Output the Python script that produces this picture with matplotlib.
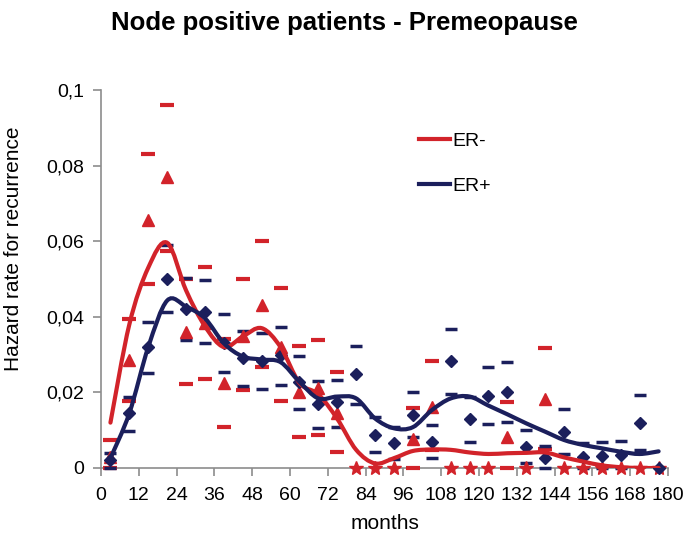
import numpy as np
import matplotlib
matplotlib.use("Agg")
import matplotlib.pyplot as plt
from matplotlib.path import Path
from matplotlib.patches import PathPatch
from matplotlib.lines import Line2D

plt.rcParams["font.family"] = ["Liberation Sans", "DejaVu Sans"]

nan = np.nan

# months (midpoints of 6-month intervals)
months = list(range(3, 180, 6))

# ER- : estimates, upper and lower limits, smoothed curve
er_neg = [0.003, 0.0286, 0.0656, 0.0769, 0.0359, 0.0383, 0.0224, 0.0349, 0.043, 0.0321,
          0.0202, 0.0212, 0.0145, 0, 0, 0, 0.0076, 0.0162, 0, 0,
          0, 0.0081, 0, 0.0183, 0, 0, 0, 0, 0, 0]
er_neg_hi = [0.0074, 0.0395, 0.0831, 0.0961, 0.0499, 0.0531, 0.034, 0.0499, 0.060, 0.0475,
             0.0323, 0.0339, 0.0253, nan, nan, nan, 0.0158, 0.0283, nan, nan,
             nan, 0.0174, nan, 0.0317, nan, nan, nan, nan, nan, nan]
er_neg_lo = [0, 0.0176, 0.0486, 0.0575, 0.0222, 0.0235, 0.0109, 0.0206, 0.0268, 0.0178,
             0.0083, 0.0086, 0.0041, nan, nan, nan, 0, 0.0048, nan, nan,
             nan, 0, nan, 0.0049, nan, nan, nan, nan, nan, nan]
er_neg_fit = [0.012, 0.038, 0.053, 0.0596, 0.047, 0.0375, 0.032, 0.0348, 0.037, 0.032,
              0.0225, 0.0195, 0.013, 0.0048, 0.0012, 0.0026, 0.0045, 0.0049, 0.0048, 0.0041,
              0.0037, 0.0039, 0.004, 0.0041, 0.0028, 0.0017, 0.0007, 0.0002, 0.0, 0.0]

# ER+
er_pos = [0.0021, 0.0145, 0.0321, 0.0501, 0.0421, 0.0413, 0.033, 0.0292, 0.0283, 0.0298,
          0.0227, 0.0168, 0.0174, 0.0248, 0.0087, 0.0067, 0.0141, 0.0069, 0.0283, 0.013,
          0.0191, 0.0202, 0.0056, 0.0026, 0.0096, 0.0028, 0.0032, 0.0034, 0.012, 0]
er_pos_hi = [0.0039, 0.0189, 0.0387, 0.0591, 0.0503, 0.0498, 0.0407, 0.0363, 0.0358, 0.0373,
             0.0296, 0.0229, 0.0234, 0.0323, 0.0136, 0.0109, 0.0202, 0.0115, 0.0368, 0.0189,
             0.0266, 0.028, 0.0101, 0.0058, 0.0157, 0.0065, 0.0069, 0.0071, 0.0194, nan]
er_pos_lo = [0, 0.0099, 0.025, 0.0414, 0.0339, 0.0332, 0.0253, 0.0217, 0.0208, 0.0219,
             0.0157, 0.0107, 0.0109, 0.0169, 0.0042, 0.0024, 0.0083, 0.0026, 0.0195, 0.007,
             0.0117, 0.0122, 0.0014, 0, 0.0037, 0, 0, 0, 0.0048, nan]
er_pos_fit = [0.0026, 0.0145, 0.032, 0.0443, 0.0427, 0.0396, 0.033, 0.0295, 0.0287, 0.028,
              0.0228, 0.0184, 0.0189, 0.0184, 0.0131, 0.0105, 0.0108, 0.0153, 0.0184, 0.0189,
              0.0165, 0.0142, 0.0118, 0.0096, 0.0074, 0.0061, 0.0052, 0.0043, 0.0037, 0.0044]

xticks = list(range(0, 181, 12))
yticks = [0, 0.02, 0.04, 0.06, 0.08, 0.1]
ylabels = ["0", "0,02", "0,04", "0,06", "0,08", "0,1"]

RED = "#d2232a"
BLUE = "#1b1f5c"
GREY = "#8c8c8c"


def smooth_path(x, y):
    # Excel-like smoothed line as cubic Bezier segments
    n = len(x)
    verts = [(x[0], y[0])]
    codes = [Path.MOVETO]
    for i in range(n - 1):
        xa, ya = (x[i - 1], y[i - 1]) if i > 0 else (x[i], y[i])
        xb, yb = (x[i + 2], y[i + 2]) if i + 2 < n else (x[i + 1], y[i + 1])
        c1 = (x[i] + (x[i + 1] - xa) / 6, y[i] + (y[i + 1] - ya) / 6)
        c2 = (x[i + 1] - (xb - x[i]) / 6, y[i + 1] - (yb - y[i]) / 6)
        verts += [c1, c2, (x[i + 1], y[i + 1])]
        codes += [Path.CURVE4] * 3
    return Path(verts, codes)


fig = plt.figure(figsize=(6.88, 5.33), dpi=100)
ax = fig.add_axes([0.1468, 0.122, 0.8242, 0.709])

m = np.array(months)
rn = np.array(er_neg)
nz = rn > 0

# limits (dashes)
ax.plot(m, er_neg_hi, ls="none", marker="_", ms=10, mew=3, color=RED, clip_on=False, zorder=3)
ax.plot(m, er_neg_lo, ls="none", marker="_", ms=10, mew=3, color=RED, clip_on=False, zorder=3)
ax.plot(m, er_pos_hi, ls="none", marker="_", ms=8, mew=2.5, color=BLUE, clip_on=False, zorder=3)
ax.plot(m, er_pos_lo, ls="none", marker="_", ms=8, mew=2.5, color=BLUE, clip_on=False, zorder=3)

# point estimates
ax.plot(m[nz], rn[nz], ls="none", marker="^", ms=8.5, color=RED, clip_on=False, zorder=4)
ax.plot(m[~nz], rn[~nz], ls="none", marker="*", ms=10.5, color=RED, clip_on=False, zorder=4)
ax.plot(m, er_pos, ls="none", marker="D", ms=6.5, color=BLUE, clip_on=False, zorder=5)

# smoothed curves
ax.add_patch(PathPatch(smooth_path(months, er_neg_fit), fill=False, ec=RED, lw=3, zorder=6,
                       capstyle="round"))
ax.add_patch(PathPatch(smooth_path(months, er_pos_fit), fill=False, ec=BLUE, lw=3, zorder=6,
                       capstyle="round"))

ax.set_xlim(0, 180)
ax.set_ylim(0, 0.1)
ax.set_xticks(xticks)
ax.set_xticklabels([str(t) for t in xticks])
ax.set_yticks(yticks)
ax.set_yticklabels(ylabels)

for s in ["top", "right"]:
    ax.spines[s].set_visible(False)
for s in ["left", "bottom"]:
    ax.spines[s].set_color(GREY)
    ax.spines[s].set_linewidth(1.2)
ax.tick_params(axis="both", colors=GREY, labelcolor="black", labelsize=14, length=6, width=1.2)
ax.tick_params(axis="x", pad=8)
ax.tick_params(axis="y", pad=6)

ax.set_xlabel("months", fontsize=15, labelpad=7)
ax.set_ylabel("Hazard rate for recurrence", fontsize=15)
ax.yaxis.set_label_coords(-0.138, 0.58)
fig.suptitle("Node positive patients - Premeopause", fontsize=18.5, fontweight="bold", y=0.98)

handles = [Line2D([], [], color=RED, lw=3), Line2D([], [], color=BLUE, lw=3)]
ax.legend(handles, ["ER-", "ER+"], loc="upper left", bbox_to_anchor=(0.53, 0.935),
          frameon=False, fontsize=14, handlelength=1.6, handletextpad=0.1, labelspacing=1.4)

fig.savefig("out.png", dpi=100)
